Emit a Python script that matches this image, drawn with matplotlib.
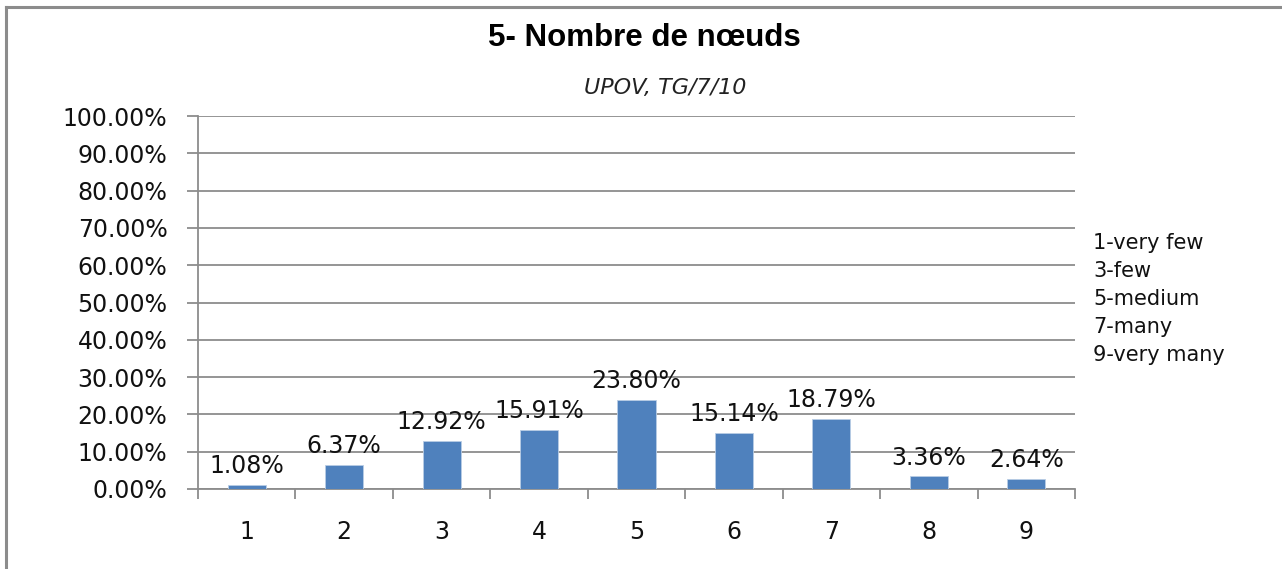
import matplotlib
matplotlib.use("Agg")
import matplotlib.pyplot as plt
from matplotlib.lines import Line2D

# data
categories = ["1", "2", "3", "4", "5", "6", "7", "8", "9"]
values = [1.08, 6.37, 12.92, 15.91, 23.80, 15.14, 18.79, 3.36, 2.64]
yticks = [0, 10, 20, 30, 40, 50, 60, 70, 80, 90, 100]
legend_lines = ["1-very few", "3-few", "5-medium", "7-many", "9-very many"]

title = "5- Nombre de nœuds"
subtitle = "UPOV, TG/7/10"

plt.rcParams['font.family'] = ['DejaVu Sans']

fig = plt.figure(figsize=(12.82, 5.69), dpi=100)
ax = fig.add_axes([198/1282, 1 - 489/569, (1075-198)/1282, (489-116)/569])

x = list(range(1, len(categories) + 1))
bars = ax.bar(x, values, width=0.39, color="#4F81BD", edgecolor="#b9cde5",
              linewidth=0.6, zorder=3)

for xi, v in zip(x, values):
    ax.annotate("%.2f%%" % v, (xi, v), xytext=(0, 5), textcoords="offset points",
                ha="center", va="bottom", fontsize=17, color="#111111")

ax.set_xlim(0.5, 9.5)
ax.set_ylim(0, 100)
ax.set_yticks(yticks)
ax.set_yticklabels(["%.2f%%" % t for t in yticks], fontsize=17, color="#111111")
ax.yaxis.grid(True, color="#8c8c8c", linewidth=1.3, zorder=0)
ax.tick_params(axis="y", length=8, width=1.3, color="#8c8c8c", pad=14)

# category ticks sit between the bars, labels in the middle
ax.set_xticks([i + 0.5 for i in range(0, 10)])
ax.set_xticklabels([])
ax.set_xticks(x, minor=True)
ax.set_xticklabels(categories, minor=True, fontsize=17, color="#111111")
ax.tick_params(axis="x", which="major", length=7, width=1.3, color="#8c8c8c", direction="out")
ax.tick_params(axis="x", which="minor", length=0, pad=22)

for s in ["top", "right"]:
    ax.spines[s].set_visible(False)
for s in ["left", "bottom"]:
    ax.spines[s].set_color("#8c8c8c")
    ax.spines[s].set_linewidth(1.3)

fig.text(644/1282, 1 - 38/569, title, ha="center", va="center",
         fontsize=22.5, fontweight="bold", family="Liberation Sans")
fig.text(665/1282, 1 - 88/569, subtitle, ha="center", va="center",
         fontsize=16, style="italic", color="#222222")

for i, t in enumerate(legend_lines):
    fig.text(1093/1282, 1 - (243 + i * 28)/569, t, ha="left", va="center",
             fontsize=15, color="#111111")

# chart frame
fig.add_artist(Line2D([6/1282, 6/1282], [0, 1 - 7/569], color="#8c8c8c", linewidth=2.2))
fig.add_artist(Line2D([6/1282, 1], [1 - 7/569, 1 - 7/569], color="#8c8c8c", linewidth=2.2))

fig.savefig("out.png", dpi=100)
